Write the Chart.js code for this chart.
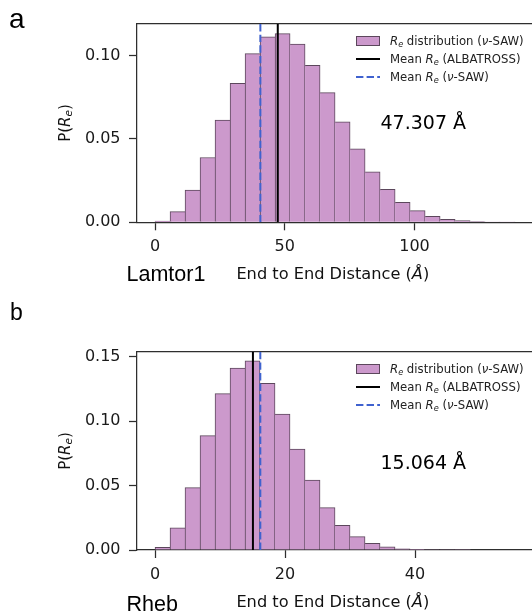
<!DOCTYPE html>
<html><head><meta charset="utf-8">
<script src="https://cdn.jsdelivr.net/npm/chart.js@4.4.1/dist/chart.umd.min.js"></script>
<style>
html,body{margin:0;padding:0;background:#fff;}
#wrap{position:relative;width:532px;height:614px;overflow:hidden;background:#fff;}
canvas{position:absolute;left:0;}
.t{position:absolute;white-space:nowrap;line-height:0;color:#111;}
.dv{font-family:'DejaVu Sans',sans-serif;}
.ar{font-family:'Liberation Sans',Arial,sans-serif;}
sub{font-size:70%;vertical-align:-0.22em;line-height:0;}
.rot{position:absolute;white-space:nowrap;line-height:1;color:#111;font-family:'DejaVu Sans',sans-serif;transform:translate(-50%,-50%) rotate(-90deg);}
.lg{position:absolute;}
</style></head><body>
<div id="wrap">
<canvas id="ca" width="560" height="300" style="top:0px"></canvas>
<canvas id="cb" width="560" height="314" style="top:300px"></canvas>
</div>
<script>
// ---------- Panel a : Lamtor1 ----------
const binCentersA = [2.89, 8.68, 14.46, 20.24, 26.02, 31.81, 37.59, 43.37, 49.16, 54.94, 60.72, 66.50,
                     72.29, 78.07, 83.85, 89.64, 95.42, 101.20, 106.98, 112.77, 118.55, 124.33, 130.12, 135.90];
const densityA    = [0.0008, 0.0064, 0.0194, 0.0389, 0.0614, 0.0834, 0.1012, 0.1113, 0.1132, 0.1069, 0.0942, 0.0778,
                     0.0603, 0.0441, 0.0303, 0.0198, 0.0120, 0.0070, 0.0036, 0.0018, 0.0010, 0.0004, 0.0002, 0.0001];
const meanAlbatrossA = 47.307;
const meanSawA = 40.6;
const xTicksA = [0, 50, 100];
const yTicksA = [0.00, 0.05, 0.10];
const yMaxA = 0.119;
const xRangeA = [-6.94, 145.66];

// ---------- Panel b : Rheb ----------
const binCentersB = [1.154, 3.462, 5.770, 8.078, 10.386, 12.694, 15.002, 17.310, 19.618, 21.926, 24.234, 26.542,
                     28.850, 31.158, 33.466, 35.774, 38.082, 40.390, 42.698, 45.006, 47.314, 49.622, 51.930, 54.238];
const densityB    = [0.0021, 0.0173, 0.0484, 0.0888, 0.1215, 0.1412, 0.1469, 0.1295, 0.1055, 0.0783, 0.0543, 0.0329,
                     0.0191, 0.0104, 0.0051, 0.0024, 0.0010, 0.0005, 0.0002, 0.0001, 0, 0, 0, 0];
const meanAlbatrossB = 15.064;
const meanSawB = 16.2;
const xTicksB = [0, 20, 40];
const yTicksB = [0.00, 0.05, 0.10, 0.15];
const yMaxB = 0.154;
const xRangeB = [-2.77, 58.15];

const legendLabels = ['<i>R</i><sub><i>e</i></sub> distribution (<i>ν</i>-SAW)',
                      'Mean <i>R</i><sub><i>e</i></sub> (ALBATROSS)',
                      'Mean <i>R</i><sub><i>e</i></sub> (<i>ν</i>-SAW)'];

const FILL = '#cc99cc', EDGE = '#5c475c', BLUE = '#3f62cf', AX = '#2e2e2e';
Chart.defaults.font.family = "'DejaVu Sans', sans-serif";

function makeChart(id, o) {
  const dens = o.dens;
  const axisCommon = {
    grid: {drawOnChartArea: false, drawTicks: true, tickLength: 8, tickWidth: 1.25, tickColor: AX, offset: false},
    border: {display: true, color: AX, width: 1.25}
  };
  return new Chart(document.getElementById(id), {
    type: 'bar',
    data: {datasets: [
      {type: 'line', xAxisID: 'x', yAxisID: 'y', order: 0,
       data: [{x: o.meanSaw, y: 0}, {x: o.meanSaw, y: o.yMax}],
       borderColor: BLUE, borderWidth: 2, borderDash: [7.4, 3.2], pointRadius: 0, borderCapStyle: 'butt'},
      {type: 'line', xAxisID: 'x', yAxisID: 'y', order: 1,
       data: [{x: o.meanAlb, y: 0}, {x: o.meanAlb, y: o.yMax}],
       borderColor: '#000', borderWidth: 2, pointRadius: 0},
      {type: 'bar', xAxisID: 'x', yAxisID: 'y', order: 2,
       data: o.centers.map((c, i) => ({x: c, y: dens[i]})),
       backgroundColor: FILL, borderColor: EDGE, borderSkipped: 'start',
       borderWidth: (ctx) => {
         const i = ctx.dataIndex;
         return {top: 1, bottom: 0,
                 left: (i === 0 || dens[i] >= dens[i - 1]) ? 1 : 0,
                 right: (i === dens.length - 1 || dens[i] > dens[i + 1]) ? 1 : 0};
       },
       barPercentage: 1, categoryPercentage: 1, grouped: false}
    ]},
    options: {
      responsive: false, animation: false, events: [],
      layout: {padding: {left: 0, top: o.top, right: 560 - 533, bottom: 0}},
      plugins: {legend: {display: false}, tooltip: {enabled: false}},
      scales: {
        x: Object.assign({}, axisCommon, {
          type: 'linear', position: 'bottom', min: o.xRange[0], max: o.xRange[1], offset: false,
          ticks: {padding: 7, font: {size: 16}, color: '#1a1a1a', maxRotation: 0, callback: v => String(v)},
          afterBuildTicks: s => { s.ticks = o.xTicks.map(v => ({value: v})); },
          afterFit: s => { s.height = o.h - o.bottom; }
        }),
        x2: {
          type: 'linear', position: 'top', min: o.xRange[0], max: o.xRange[1], offset: false,
          grid: {display: false}, ticks: {display: false},
          border: {display: true, color: AX, width: 1.25},
          afterFit: s => { s.height = 0; }
        },
        y: Object.assign({}, axisCommon, {
          type: 'linear', position: 'left', min: 0, max: o.yMax,
          ticks: {padding: 8.5, font: {size: 16}, color: '#1a1a1a', callback: v => v.toFixed(2)},
          afterBuildTicks: s => { s.ticks = o.yTicks.map(v => ({value: v})); },
          afterFit: s => { s.width = 137; }
        })
      }
    }
  });
}

makeChart('ca', {centers: binCentersA, dens: densityA, meanAlb: meanAlbatrossA, meanSaw: meanSawA,
  xTicks: xTicksA, yTicks: yTicksA, yMax: yMaxA, xRange: xRangeA, top: 24, bottom: 222.3, h: 300});
makeChart('cb', {centers: binCentersB, dens: densityB, meanAlb: meanAlbatrossB, meanSaw: meanSawB,
  xTicks: xTicksB, yTicks: yTicksB, yMax: yMaxB, xRange: xRangeB, top: 51.7, bottom: 250, h: 314});

// ---------- text & legends ----------
const wrap = document.getElementById('wrap');
function txt(html, left, baseline, size, cls, extra) {
  const d = document.createElement('div');
  d.className = 't ' + cls;
  d.style.left = left + 'px';
  d.style.top = (baseline - 0.346 * size) + 'px';
  d.style.fontSize = size + 'px';
  if (extra) Object.assign(d.style, extra);
  d.innerHTML = html;
  wrap.appendChild(d);
}
function ytitle(cx, cy) {
  const d = document.createElement('div');
  d.className = 'rot';
  d.style.left = cx + 'px'; d.style.top = cy + 'px'; d.style.fontSize = '15px';
  d.innerHTML = 'P(<i>R</i><sub><i>e</i></sub>)';
  wrap.appendChild(d);
}
function legend(rows) {
  const p = document.createElement('div');
  p.className = 'lg';
  Object.assign(p.style, {left: '356px', top: (rows[0] - 5) + 'px', width: '24px', height: '10px',
    boxSizing: 'border-box', background: FILL, border: '1px solid ' + EDGE});
  wrap.appendChild(p);
  const l = document.createElement('div');
  l.className = 'lg';
  Object.assign(l.style, {left: '356px', top: (rows[1] - 1) + 'px', width: '24px', height: '2px', background: '#000'});
  wrap.appendChild(l);
  const ns = 'http://www.w3.org/2000/svg';
  const s = document.createElementNS(ns, 'svg');
  s.setAttribute('width', '24'); s.setAttribute('height', '4');
  Object.assign(s.style, {position: 'absolute', left: '356px', top: (rows[2] - 2) + 'px'});
  const ln = document.createElementNS(ns, 'line');
  ln.setAttribute('x1', '0'); ln.setAttribute('x2', '24'); ln.setAttribute('y1', '2'); ln.setAttribute('y2', '2');
  ln.setAttribute('stroke', BLUE); ln.setAttribute('stroke-width', '2'); ln.setAttribute('stroke-dasharray', '7.4 3.2');
  s.appendChild(ln); wrap.appendChild(s);
  legendLabels.forEach((lab, i) => txt(lab, 390, rows[i] + 4.3, 11.7, 'dv', {color: '#222'}));
}

// panel a
txt('a', 9, 28.3, 28, 'ar', {color: '#000'});
ytitle(64.7, 123);
txt('Lamtor1', 126.5, 281, 21.5, 'ar', {color: '#000'});
txt('End to End Distance (<i>Å</i>)', 236.4, 280, 16.2, 'dv');
txt(meanAlbatrossA.toFixed(3) + ' Å', 380.5, 129, 19, 'dv', {color: '#000'});
legend([40.8, 58.8, 76.8]);

// panel b
txt('b', 10, 319.8, 23, 'ar', {color: '#000'});
ytitle(64.7, 451);
txt('Rheb', 126.5, 611.3, 21.5, 'ar', {color: '#000'});
txt('End to End Distance (<i>Å</i>)', 236.4, 607.5, 16.2, 'dv');
txt(meanAlbatrossB.toFixed(3) + ' Å', 380.5, 469, 19, 'dv', {color: '#000'});
legend([368.5, 386.5, 404.5]);
</script>
</body></html>
